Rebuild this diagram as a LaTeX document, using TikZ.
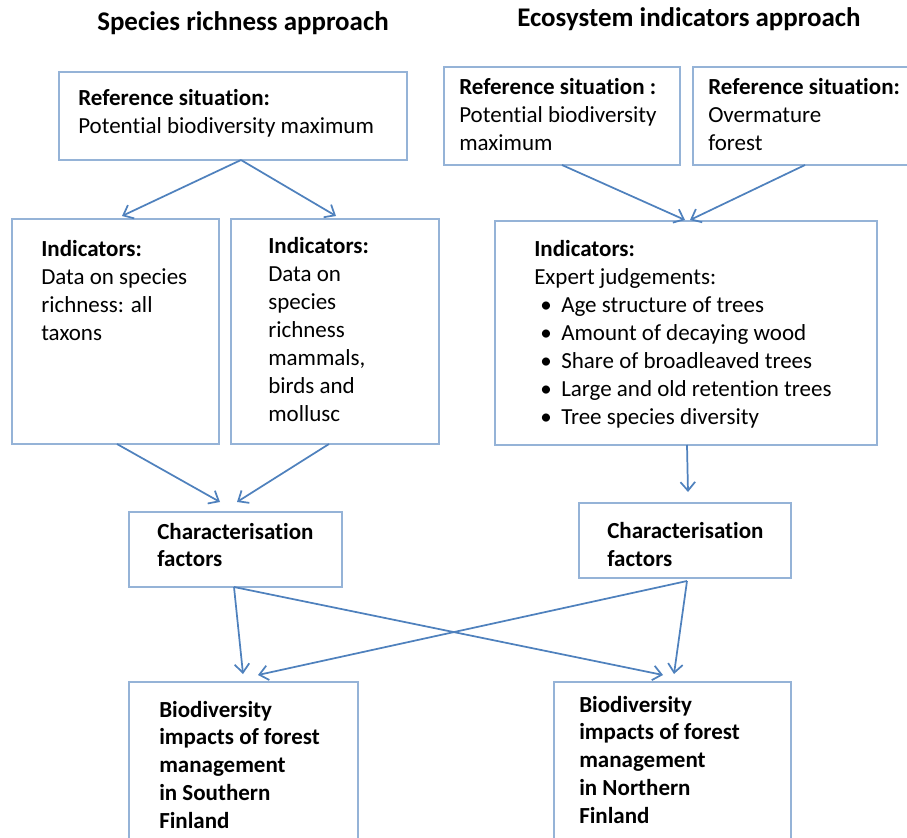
\documentclass[tikz,border=0pt]{standalone}
\usepackage{fontspec}
\setmainfont{Carlito}[RawFeature={-liga;-clig;-calt;-dlig;-hlig}]
\usetikzlibrary{arrows.meta,fit}
\definecolor{boxc}{RGB}{149,179,215}
\definecolor{arrc}{RGB}{79,129,189}
\tikzset{
  box/.style={draw=boxc, line width=0.8pt, inner sep=0pt, fill=none},
  txt/.style={anchor=north west, inner sep=0pt, align=left, font={\fontsize{17.25}{21}\selectfont}},
  head/.style={anchor=base west, inner sep=0pt, font={\fontsize{20.2}{24}\selectfont\bfseries}},
  conn/.style={draw=arrc, line width=1.3pt, -{Straight Barb[length=6.5pt,width=11pt]}},
}
\newcommand{\bul}{\hspace*{4.5pt}\makebox[15.75pt][l]{\textbullet}}
\begin{document}
\begin{tikzpicture}[x=0.75pt,y=-0.75pt]
\useasboundingbox (0,0) rectangle (907,838);
\clip (0,0) rectangle (907,838);
% headings
\node[head] (h1) at (97,31) {Species richness approach};
\node[head] (h2) at (517,27) {Ecosystem indicators approach};
% boxes
\node[box, fit={(59,72) (407,160)}] (A) {};
\node[box, fit={(444,67) (680,165)}] (B) {};
\node[box, fit={(693,67) (915,165)}] (C) {};
\node[box, fit={(12,219) (219,444)}] (D) {};
\node[box, fit={(231,219) (439,444)}] (E) {};
\node[box, fit={(495,221) (877,445)}] (F) {};
\node[box, fit={(129,512) (342,587)}] (G) {};
\node[box, fit={(579,503) (791,578)}] (H) {};
\node[box, fit={(129,682) (358,860)}] (I) {};
\node[box, fit={(554,682) (791,860)}] (J) {};
% texts
\node[txt] (tA) at (78,105-19.6) {\strut\textbf{Reference situation:}\\Potential biodiversity maximum};
\node[txt] (tB) at (459,94-19.6) {\strut\textbf{Reference situation :}\\Potential biodiversity\\maximum};
\node[txt] (tC) at (708,94-19.6) {\strut\textbf{Reference situation:}\\Overmature\\forest};
\node[txt] (tD) at (41,256-19.6) {\strut\textbf{Indicators:}\\Data on species\\richness: all\\taxons};
\node[txt] (tE) at (268,253-19.6) {\strut\textbf{Indicators:}\\Data on\\species\\richness\\mammals,\\birds and\\mollusc};
\node[txt] (tF) at (534,256-19.6) {\strut\textbf{Indicators:}\\Expert judgements:\\
  \bul Age structure of trees\\
  \bul Amount of decaying wood\\
  \bul Share of broadleaved trees\\
  \bul Large and old retention trees\\
  \bul Tree species diversity};
\node[txt, font={\fontsize{17.25}{20.3}\selectfont\bfseries}] (tG) at (157,540-19.6) {\strut Characterisation\\factors};
\node[txt, font={\fontsize{17.25}{21}\selectfont\bfseries}] (tH) at (607,538-19.6) {\strut Characterisation\\factors};
\node[txt, font={\fontsize{17.25}{20.8}\selectfont\bfseries}] (tI) at (159,717-19.6) {\strut Biodiversity\\impacts of forest\\management\\in Southern\\Finland};
\node[txt, font={\fontsize{17.25}{20.8}\selectfont\bfseries}] (tJ) at (579,712-19.6) {\strut Biodiversity\\impacts of forest\\management\\in Northern\\Finland};
% connector endpoints
\coordinate (As) at (241,160);
\coordinate (Dn) at (122,216);
\coordinate (En) at (336,216);
\coordinate (Bs) at (562,165);
\coordinate (Cs) at (805,165);
\coordinate (Fn1) at (685,220);
\coordinate (Fn2) at (690,220);
\coordinate (Ds) at (117,444);
\coordinate (Es) at (329,444);
\coordinate (Gn1) at (220,502);
\coordinate (Gn2) at (237,502);
\coordinate (Fs) at (687,445);
\coordinate (Hn) at (688,492);
\coordinate (Gs) at (234,587);
\coordinate (Hs) at (687,581);
\coordinate (In1) at (243,674);
\coordinate (In2) at (258,675);
\coordinate (Jn1) at (663,675);
\coordinate (Jn2) at (674,674);
% connectors
\draw[conn] (As) -- (Dn);
\draw[conn] (As) -- (En);
\draw[conn] (Bs) -- (Fn1);
\draw[conn] (Cs) -- (Fn2);
\draw[conn] (Ds) -- (Gn1);
\draw[conn] (Es) -- (Gn2);
\draw[conn] (Fs) -- (Hn);
\draw[conn] (Gs) -- (In1);
\draw[conn] (Gs) -- (Jn1);
\draw[conn] (Hs) -- (Jn2);
\draw[conn] (Hs) -- (In2);
\end{tikzpicture}
\end{document}
